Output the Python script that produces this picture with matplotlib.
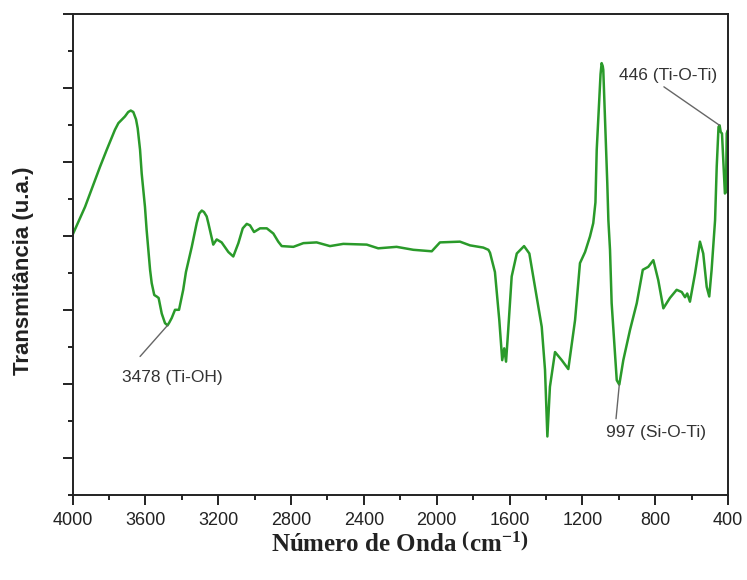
import matplotlib
matplotlib.use("Agg")
import matplotlib.pyplot as plt
from matplotlib.ticker import MultipleLocator, NullFormatter

plt.rcParams["font.family"] = ["Liberation Sans", "DejaVu Sans"]
plt.rcParams["mathtext.fontset"] = "custom"
plt.rcParams["mathtext.rm"] = "Liberation Serif:bold"
plt.rcParams["mathtext.bf"] = "Liberation Serif:bold"
plt.rcParams["mathtext.it"] = "Liberation Serif:bold"

# FTIR spectrum: wavenumber (cm-1) and transmittance (arbitrary units)
wavenumber = [
    4000, 3931, 3849, 3812, 3767, 3748, 3712, 3694, 3680, 3666, 3651, 3642,
    3629, 3620, 3602, 3593, 3574, 3565, 3551, 3538, 3527, 3510, 3492, 3478,
    3468, 3455, 3437, 3415, 3392, 3377, 3345, 3318, 3304, 3290, 3278, 3263,
    3254, 3241, 3227, 3208, 3181, 3144, 3117, 3089, 3065, 3043, 3025,
    3003, 2970, 2933, 2897, 2870, 2851, 2787, 2732, 2659, 2586, 2513, 2384,
    2321, 2220, 2128, 2027, 1982, 1872, 1817, 1744, 1716, 1707, 1680, 1656,
    1640, 1629, 1619, 1607, 1588, 1560, 1520, 1491, 1460, 1423, 1405, 1392,
    1378, 1350, 1313, 1277, 1240, 1213, 1185, 1158, 1140, 1128, 1121, 1107,
    1100, 1094, 1088, 1085, 1076, 1063, 1057, 1048, 1039, 1011, 997, 975,
    938, 901, 868, 838, 810, 783, 755, 719, 682, 654, 636, 624, 609, 581,
    554, 536, 517, 503, 490, 471, 462, 452, 446, 440, 433, 426,
    417, 411, 407, 402,
]
transmittance = [
    3.01, 3.39, 3.93, 4.16, 4.43, 4.52, 4.61, 4.67, 4.69, 4.67, 4.57, 4.45,
    4.16, 3.84, 3.39, 3.08, 2.54, 2.36, 2.20, 2.18, 2.16, 1.95, 1.82, 1.79,
    1.83, 1.89, 2.00, 2.00, 2.27, 2.51, 2.85, 3.17, 3.30, 3.34, 3.32, 3.26,
    3.17, 3.03, 2.88, 2.95, 2.91, 2.78, 2.72, 2.90, 3.10, 3.16, 3.14,
    3.05, 3.10, 3.10, 3.03, 2.92, 2.86, 2.85, 2.90, 2.91, 2.86, 2.89, 2.88,
    2.83, 2.85, 2.81, 2.79, 2.91, 2.92, 2.87, 2.84, 2.81, 2.77, 2.51, 1.86,
    1.32, 1.48, 1.30, 1.73, 2.45, 2.76, 2.86, 2.76, 2.31, 1.77, 1.19, 0.29,
    0.96, 1.43, 1.32, 1.20, 1.86, 2.63, 2.78, 2.99, 3.17, 3.45, 4.16, 4.83,
    5.18, 5.33, 5.29, 5.24, 4.61, 3.71, 3.21, 2.81, 2.09, 1.05, 0.99, 1.32,
    1.73, 2.09, 2.54, 2.58, 2.67, 2.40, 2.02, 2.16, 2.27, 2.24, 2.17, 2.22,
    2.11, 2.49,
    2.92, 2.76, 2.31, 2.18, 2.54, 3.21, 3.93, 4.47, 4.49, 4.40, 4.38, 4.02,
    3.57, 3.59, 4.38, 4.42,
]

# Band assignments: label text, band position, label centre, leader-line start
band_labels = ["3478 (Ti-OH)", "997 (Si-O-Ti)", "446 (Ti-O-Ti)"]
band_points = [(3478, 1.79), (997, 0.99), (446, 4.49)]
label_centres = [(3451, 1.08), (797, 0.34), (730, 5.16)]
leader_starts = [(3629, 1.37), (1015, 0.53), (752, 5.01)]

x_ticks = [4000, 3600, 3200, 2800, 2400, 2000, 1600, 1200, 800, 400]

fig = plt.figure(figsize=(7.47, 5.80), dpi=100)
ax = fig.add_axes([72.5 / 747, 85 / 580, 655.5 / 747, 481.5 / 580])

ax.plot(wavenumber, transmittance, color="#2a9a2a", lw=1.8,
        solid_joinstyle="round", solid_capstyle="round")

ax.set_xlim(4000, 400)
ax.set_ylim(-0.5, 6)
ax.set_xticks(x_ticks)
ax.xaxis.set_minor_locator(MultipleLocator(200))
ax.yaxis.set_major_locator(MultipleLocator(1))
ax.yaxis.set_minor_locator(MultipleLocator(0.5))
ax.yaxis.set_major_formatter(NullFormatter())

for side in ["left", "right", "top", "bottom"]:
    ax.spines[side].set_linewidth(1.4)
    ax.spines[side].set_color("#222222")

ax.tick_params(which="major", direction="out", length=7, width=1.4,
               labelsize=13, pad=5, colors="#222222")
ax.tick_params(which="minor", direction="out", length=3.5, width=1.4,
               colors="#222222")
ax.tick_params(top=False, right=False, which="both")

for text, point, centre, start in zip(band_labels, band_points,
                                      label_centres, leader_starts):
    ax.annotate("", xy=point, xytext=start,
                arrowprops=dict(arrowstyle="-", color="#666666", lw=1.0,
                                shrinkA=0, shrinkB=0))
    ax.text(centre[0], centre[1], text, ha="center", va="center",
            fontsize=12.5, color="#333333")

fig.text(24 / 747, 1 - 271 / 580, "Transmitância (u.a.)", rotation=90,
         ha="center", va="center", fontsize=16, fontweight="bold",
         color="#222222")
fig.text(400 / 747, 1 - 545 / 580,
         r"Número de Onda $\left(\mathrm{cm}^{\mathrm{-1}}\right)$",
         ha="center", va="center", fontsize=18, fontweight="bold",
         family="Liberation Serif", color="#222222")

fig.savefig("out.png", dpi=100)
